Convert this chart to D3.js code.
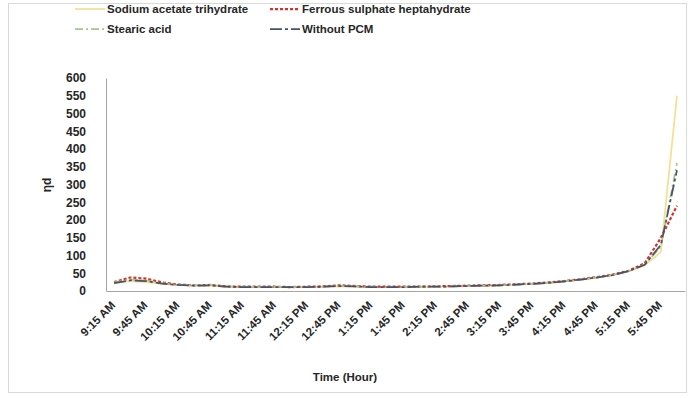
<!DOCTYPE html>
<html>
<head>
<meta charset="utf-8">
<script src="https://cdn.jsdelivr.net/npm/d3@7"></script>
<style>
  html, body { margin: 0; padding: 0; background: #fff; }
  svg { display: block; font-family: "Liberation Sans", Arial, sans-serif; }
</style>
</head>
<body>
<svg id="chart" width="691" height="398"></svg>
<script>
// Readings every 15 minutes
const times = ["9:15 AM","9:30 AM","9:45 AM","10:00 AM","10:15 AM","10:30 AM","10:45 AM","11:00 AM",
  "11:15 AM","11:30 AM","11:45 AM","12:00 PM","12:15 PM","12:30 PM","12:45 PM","1:00 PM",
  "1:15 PM","1:30 PM","1:45 PM","2:00 PM","2:15 PM","2:30 PM","2:45 PM","3:00 PM",
  "3:15 PM","3:30 PM","3:45 PM","4:00 PM","4:15 PM","4:30 PM","4:45 PM","5:00 PM",
  "5:15 PM","5:30 PM","5:45 PM","6:00 PM"];

const sodiumAcetate = [22,28,25,20,17,15,15,12,11,11,11,11,11,12,13,12,11,11,11,11,12,13,14,15,16,18,20,23,27,32,38,45,55,72,110,550];
const ferrousSulphate = [25,38,35,24,18,16,17,13,12,12,12,11,12,13,16,14,12,12,12,12,13,14,15,16,17,19,21,24,28,33,39,46,57,78,150,240];
const stearicAcid = [24,32,30,22,18,16,17,13,12,11,12,11,11,12,14,13,12,11,12,12,12,13,14,15,16,18,20,23,27,32,38,45,56,75,125,360];
const withoutPCM = [22,30,28,21,17,15,16,12,11,11,11,11,11,12,14,13,11,11,11,12,12,13,14,15,16,18,20,23,27,32,38,45,56,74,130,340];

const yTicks = [0,50,100,150,200,250,300,350,400,450,500,550,600];
const seriesNames = ["Sodium acetate trihydrate","Ferrous sulphate heptahydrate","Stearic acid","Without PCM"];

const series = [
  { name: seriesNames[0], values: sodiumAcetate, color: "#f4df93", width: 1.75, dash: null },
  { name: seriesNames[1], values: ferrousSulphate, color: "#dc2f27", width: 2.25, dash: "3,2" },
  { name: seriesNames[2], values: stearicAcid, color: "#a9c48a", width: 1.75, dash: "8,3,2,3" },
  { name: seriesNames[3], values: withoutPCM, color: "#44546a", width: 1.75, dash: "12,3,3,3" }
];

const svg = d3.select("#chart");
const font = "Liberation Sans, Arial, sans-serif";

// outer frame
svg.append("rect").attr("x", 8.5).attr("y", 3.5).attr("width", 678).attr("height", 389)
  .attr("fill", "none").attr("stroke", "#d9d9d9").attr("stroke-width", 1);

const plot = { left: 106, right: 685, top: 78, bottom: 291 };

const x = d3.scaleBand().domain(times).range([plot.left, plot.right]).padding(0);
const y = d3.scaleLinear().domain([0, 600]).range([plot.bottom, plot.top]);

// y axis
const yAxis = svg.append("g").attr("transform", `translate(${plot.left},0)`)
  .call(d3.axisLeft(y).tickValues(yTicks).tickSize(0).tickPadding(20));
yAxis.select(".domain").attr("stroke", "#a6a6a6");
yAxis.selectAll("text").attr("font-size", "12px").attr("font-weight", "bold").attr("fill", "#262626")
  .attr("font-family", font);

// x axis with a label on every other reading
const xAxis = svg.append("g").attr("transform", `translate(0,${plot.bottom})`)
  .call(d3.axisBottom(x).tickValues(times.filter((d, i) => i % 2 === 0)).tickSize(0).tickPadding(0));
xAxis.select(".domain").attr("stroke", "#a6a6a6");
xAxis.selectAll("text")
  .attr("font-size", "11.5px").attr("font-weight", "bold").attr("fill", "#262626")
  .attr("font-family", font)
  .attr("text-anchor", "end")
  .attr("dy", null).attr("y", 0)
  .attr("transform", "translate(2,15) rotate(-45)");

// lines
const line = d3.line().x((d, i) => x(times[i]) + x.bandwidth() / 2).y(d => y(d));
series.forEach(s => {
  svg.append("path").datum(s.values)
    .attr("d", line)
    .attr("fill", "none")
    .attr("stroke", s.color)
    .attr("stroke-width", s.width)
    .attr("stroke-dasharray", s.dash)
    .attr("stroke-linejoin", "round");
});

// axis titles
svg.append("text").attr("x", 345).attr("y", 381).attr("text-anchor", "middle")
  .attr("font-size", "11.5px").attr("font-weight", "bold").attr("fill", "#262626").text("Time (Hour)");
svg.append("text").attr("transform", "translate(51,185) rotate(-90)").attr("text-anchor", "middle")
  .attr("font-size", "12px").attr("font-weight", "bold").attr("fill", "#262626").text("ηd");

// legend
const legendPos = [[75, 9], [270, 9], [75, 29], [270, 29]];
series.forEach((s, i) => {
  const [lx, ly] = legendPos[i];
  svg.append("line").attr("x1", lx).attr("x2", lx + 30).attr("y1", ly).attr("y2", ly)
    .attr("stroke", s.color).attr("stroke-width", s.width).attr("stroke-dasharray", s.dash);
  svg.append("text").attr("x", lx + 32).attr("y", ly + 4)
    .attr("font-size", "11.5px").attr("font-weight", "bold").attr("fill", "#262626").text(s.name);
});
</script>
</body>
</html>
